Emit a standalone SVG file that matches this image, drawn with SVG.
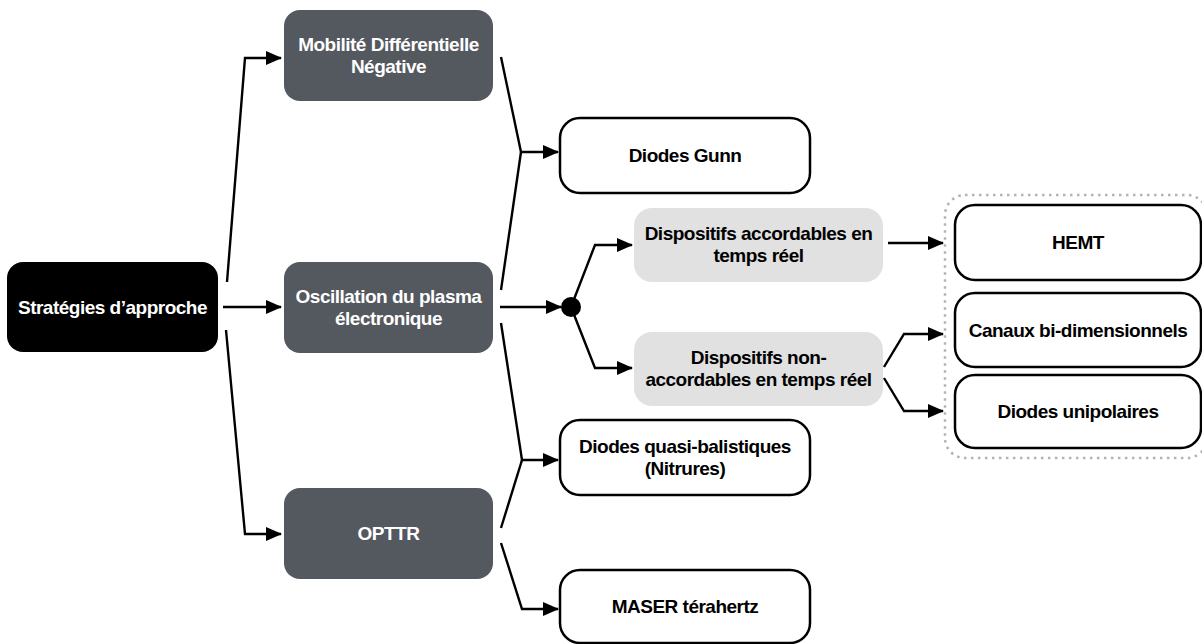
<svg xmlns="http://www.w3.org/2000/svg" width="1202" height="644" viewBox="0 0 1202 644">
<style>
.dark{fill:#54585f;}
.black{fill:#000;}
.light{fill:#e1e1e1;}
.white{fill:#fff;stroke:#000;stroke-width:2.5;}
.group{fill:none;stroke:#b3b3b3;stroke-width:2.5;stroke-dasharray:2.5 4.5;}
text{font-family:"Liberation Sans",Arial,sans-serif;font-weight:bold;font-size:19px;letter-spacing:-0.5px;text-anchor:middle;}
.tw{fill:#fff;}
.tb{fill:#000;}
.edge{fill:none;stroke:#000;stroke-width:2.4;stroke-linejoin:miter;}
</style>
<defs>
<marker id="arr" markerUnits="userSpaceOnUse" markerWidth="16" markerHeight="14" refX="15" refY="7" orient="auto">
<path d="M0,0 L16,7 L0,14 Z" fill="#000"/>
</marker>
</defs>
<rect class="group" x="945" y="195" width="262" height="263" rx="20"/>
<g id="connectors">
<path class="edge" marker-end="url(#arr)" d="M227,282 L245,58 L281,58"/>
<path class="edge" marker-end="url(#arr)" d="M223,307 L281,307"/>
<path class="edge" marker-end="url(#arr)" d="M226,330 L245,534 L281,534"/>
<path class="edge" marker-end="url(#arr)" d="M501,57 L521,152 L558,152"/>
<path class="edge" d="M501,290 L521,152"/>
<path class="edge" marker-end="url(#arr)" d="M500,307 L561,307"/>
<path class="edge" marker-end="url(#arr)" d="M571,307 L595,245 L632,245"/>
<path class="edge" marker-end="url(#arr)" d="M571,307 L595,368 L632,368"/>
<path class="edge" marker-end="url(#arr)" d="M501,323 L522,460 L558,460"/>
<path class="edge" d="M501,528 L522,460"/>
<path class="edge" marker-end="url(#arr)" d="M501,543 L522,609 L558,609"/>
<path class="edge" marker-end="url(#arr)" d="M888,243 L943,243"/>
<path class="edge" marker-end="url(#arr)" d="M884,367 L904,334 L943,334"/>
<path class="edge" marker-end="url(#arr)" d="M884,378 L904,411 L943,411"/>
<circle cx="571" cy="307" r="10" fill="#000"/>
</g>
<g id="strategies">
<rect class="black" x="7" y="262" width="211" height="90" rx="16"/>
<text class="tw" x="112.5" y="314">Stratégies d’approche</text>
</g>
<g id="mobilite">
<rect class="dark" x="284" y="10" width="209" height="91" rx="16"/>
<text class="tw" x="388.5" y="51">Mobilité Différentielle</text>
<text class="tw" x="388.5" y="73">Négative</text>
</g>
<g id="oscillation">
<rect class="dark" x="284" y="262" width="209" height="91" rx="16"/>
<text class="tw" x="388.5" y="303">Oscillation du plasma</text>
<text class="tw" x="388.5" y="325">électronique</text>
</g>
<g id="opttr">
<rect class="dark" x="284" y="488" width="209" height="91" rx="16"/>
<text class="tw" x="388.5" y="540">OPTTR</text>
</g>
<g id="gunn">
<rect class="white" x="560" y="118" width="250" height="75" rx="20"/>
<text class="tb" x="685" y="162">Diodes Gunn</text>
</g>
<g id="accordables">
<rect class="light" x="634" y="208" width="249" height="74" rx="18"/>
<text class="tb" x="758.5" y="240">Dispositifs accordables en</text>
<text class="tb" x="758.5" y="262">temps réel</text>
</g>
<g id="nonaccordables">
<rect class="light" x="634" y="332" width="249" height="74" rx="18"/>
<text class="tb" x="758.5" y="364">Dispositifs non-</text>
<text class="tb" x="758.5" y="386">accordables en temps réel</text>
</g>
<g id="quasi">
<rect class="white" x="560" y="420" width="250" height="75" rx="20"/>
<text class="tb" x="685" y="453">Diodes quasi-balistiques</text>
<text class="tb" x="685" y="475">(Nitrures)</text>
</g>
<g id="maser">
<rect class="white" x="560" y="570" width="250" height="73" rx="20"/>
<text class="tb" x="685" y="613">MASER térahertz</text>
</g>
<g id="hemt">
<rect class="white" x="955" y="205" width="246" height="75" rx="20"/>
<text class="tb" x="1078" y="249">HEMT</text>
</g>
<g id="canaux">
<rect class="white" x="955" y="293" width="246" height="74" rx="20"/>
<text class="tb" x="1078" y="337">Canaux bi-dimensionnels</text>
</g>
<g id="unipolaires">
<rect class="white" x="955" y="375" width="246" height="73" rx="20"/>
<text class="tb" x="1078" y="418">Diodes unipolaires</text>
</g>
</svg>
